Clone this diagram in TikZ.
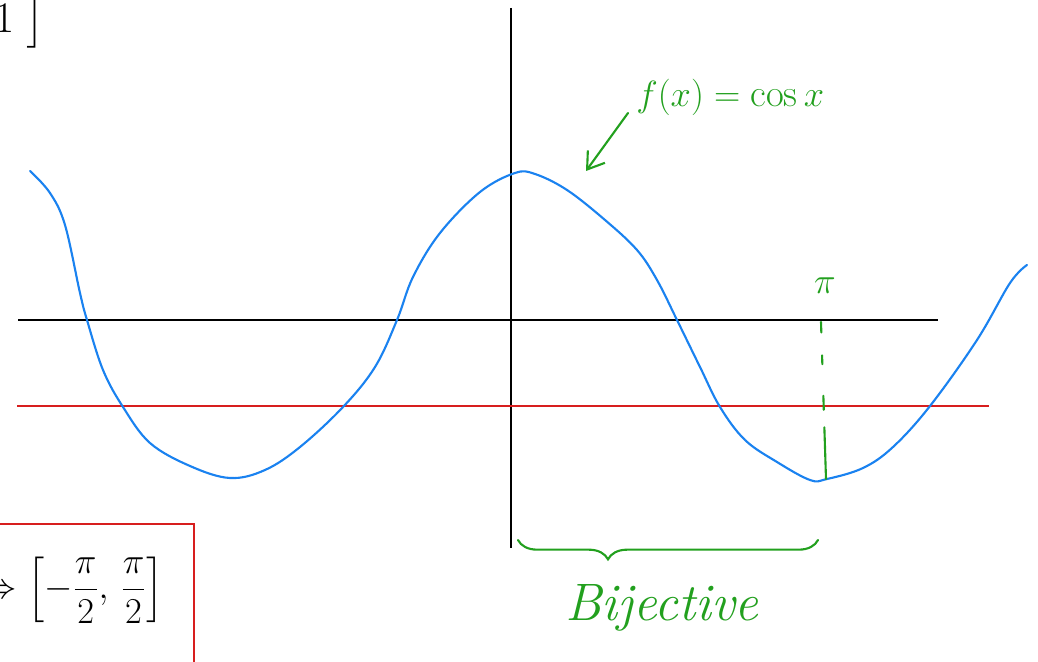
\documentclass[tikz,border=0pt]{standalone}
\usepackage{fontspec}
\usepackage{amsmath}
\usepackage{tikz}
\usetikzlibrary{positioning,arrows.meta,decorations.pathreplacing}
\definecolor{inkblue}{HTML}{1A82F0}
\definecolor{inkgreen}{HTML}{22A01E}
\definecolor{inkred}{HTML}{D71E1E}

\begin{document}
\begin{tikzpicture}[
  x=0.02cm, y=-0.02cm,
  axisLine/.style ={draw=black,   line width=1.1pt},
  levelLine/.style={draw=inkred,  line width=1.1pt},
  cosCurve/.style ={draw=inkblue, line width=1.2pt, line cap=round, line join=round},
  greenInk/.style ={draw=inkgreen,line width=1.2pt, line cap=round},
  greenText/.style={text=inkgreen, inner sep=0pt},
]
% canvas: 1038 x 662 px, one unit = one px, y downwards
\clip (0,0) rectangle (1038,662);
\fill[white] (0,0) rectangle (1038,662);

% axes and the red level line
\coordinate (xl) at (18,320);  \coordinate (xr) at (938,320);
\coordinate (yt) at (511,8);   \coordinate (yb) at (511,548);
\coordinate (rl) at (17,406);  \coordinate (rr) at (989,406);
\draw[axisLine] (xl) -- (xr);
\draw[axisLine] (yt) -- (yb);
\draw[levelLine] (rl) -- (rr);

% hand drawn cosine
\draw[cosCurve] plot[smooth, tension=0.6] coordinates {
  (30,171) (50,193) (65,225) (80,293) (87,320) (103,370) (123,407)
  (150,443) (190,466) (230,478) (265,470) (300,447) (343,407) (375,367)
  (397,320) (413,277) (440,233) (480,192) (515,173) (535,174) (567,190)
  (605,220) (637,250) (657,280) (677,320) (700,367) (720,407) (745,440)
  (777,462) (810,480) (827,479) (863,468) (893,447) (930,406) (977,340)
  (1010,283) (1027,265)};

% label of the curve with its arrow
\node[greenText, anchor=west, font=\fontsize{22}{26}\selectfont] (fxlabel) at (636,97) {$f(x)=\cos x$};
\coordinate (arrowtail) at (628,113);
\coordinate (peak) at (586,171);
\draw[greenInk, -{Straight Barb[length=9pt,width=12pt]}] (arrowtail) -- (peak);

% pi mark and dashed drop to the minimum
\node[greenText, font=\fontsize{20}{24}\selectfont] (pilabel) at (825,286) {$\pi$};
\coordinate (pitop) at (821,322);
\coordinate (pibot) at (826,479);
\draw[greenInk, dash pattern=on 6pt off 13pt on 5pt off 18pt on 8pt off 10pt on 30pt] (pitop) -- (pibot);

% brace under the bijective part
\coordinate (bl) at (518,540);
\coordinate (br) at (818,540);
\draw[greenInk, decorate, decoration={brace, mirror, amplitude=11pt, aspect=0.3}] (bl) -- (br);
\node[greenText, font=\fontsize{30}{34}\selectfont\itshape] (bijlabel) at (662,608) {Bijective};

% boxed interval, bottom left
\draw[levelLine] (-20,524) rectangle (194,700);
\node[inner sep=0pt, anchor=east, font=\fontsize{20}{24}\selectfont] (intlabel) at (164,590)
  {$\Rightarrow\left[-\dfrac{\pi}{2},\,\dfrac{\pi}{2}\right]$};

% end of a bracket cut off at the top left
\node[inner sep=0pt, anchor=east, font=\fontsize{24}{28}\selectfont] (toplabel) at (45,22) {$1\;\big]$};
\end{tikzpicture}
\end{document}
